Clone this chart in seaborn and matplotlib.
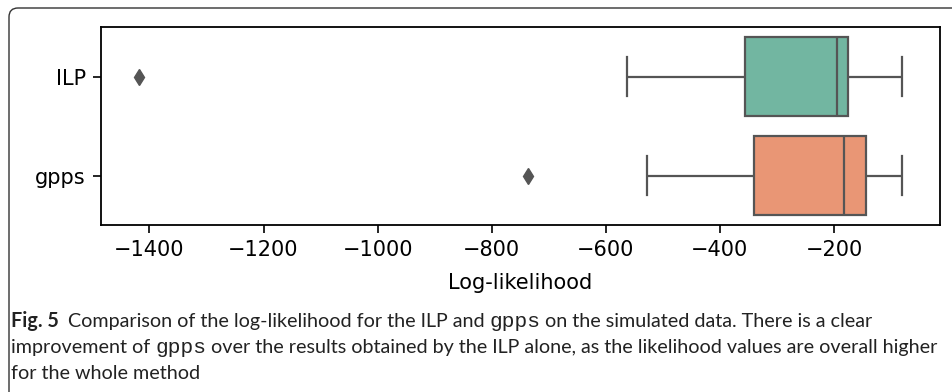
import matplotlib
matplotlib.use('Agg')
import matplotlib.pyplot as plt
import matplotlib.patches as mpatches
import matplotlib.transforms as mtrans
import seaborn as sns
import pandas as pd

# estimated sample values read off the boxes (min/outlier, whiskers, quartiles, median)
methods = ['ILP', 'gpps']
ilp_vals = [-1418, -563, -356, -270, -195, -185, -176, -130, -81]
gpps_vals = [-737, -527, -340, -250, -182, -160, -143, -110, -81]

df = pd.DataFrame({
    'Log-likelihood': ilp_vals + gpps_vals,
    'method': ['ILP'] * len(ilp_vals) + ['gpps'] * len(gpps_vals),
})

W, H = 953, 392
fig = plt.figure(figsize=(W / 100, H / 100), dpi=100)
ax = fig.add_axes([101 / W, 1 - 225 / H, (940 - 101) / W, (225 - 27) / H])

sns.boxplot(data=df, x='Log-likelihood', y='method', hue='method', order=methods,
            palette='Set2', saturation=0.75, linewidth=1.6, linecolor='#555555',
            width=0.8, ax=ax, legend=False,
            flierprops=dict(marker='d', markersize=8, markerfacecolor='#555555',
                            markeredgecolor='#555555'))

ax.set_ylabel('')
ax.set_xlabel('Log-likelihood', fontsize=15, labelpad=9)
ax.tick_params(labelsize=15, length=6, width=1.2, pad=5)
for s in ax.spines.values():
    s.set_linewidth(1.3)
    s.set_color('black')

# outer frame of the figure panel (top and left edges, rounded corner)
frame = mpatches.FancyBboxPatch((9, -60), 1100, 444,
                                boxstyle='round,pad=0,rounding_size=9',
                                transform=mtrans.IdentityTransform(),
                                fill=False, edgecolor='#333333', linewidth=1.0)
fig.patches.append(frame)

# caption with mixed fonts
cap = ['Lato', 'DejaVu Sans']
mono = ['Liberation Mono', 'DejaVu Sans Mono']
lines = [
    [('Fig. 5', 'bold', cap), ('Comparison of the log-likelihood for the ILP and', 'normal', cap),
     ('gpps', 'normal', mono), ('on the simulated data. There is a clear', 'normal', cap)],
    [('improvement of', 'normal', cap), ('gpps', 'normal', mono),
     ('over the results obtained by the ILP alone, as the likelihood values are overall higher', 'normal', cap)],
    [('for the whole method', 'normal', cap)],
]
baselines = [327, 353, 379]
x0 = 11
line1_end = 870

renderer = fig.canvas.get_renderer()


def place_line(segs, yb, fs, draw=True):
    t1 = fig.text(0, 0, 'a a', family=cap, fontsize=fs)
    t2 = fig.text(0, 0, 'aa', family=cap, fontsize=fs)
    space = t1.get_window_extent(renderer).width - t2.get_window_extent(renderer).width
    t1.remove()
    t2.remove()
    x = x0
    made = []
    for i, (txt, wt, fam) in enumerate(segs):
        size = fs * 1.08 if fam is mono else fs
        t = fig.text(x / W, 1 - yb / H, txt, family=fam, weight=wt, fontsize=size,
                     va='baseline', ha='left', color='#222222')
        made.append(t)
        x += t.get_window_extent(renderer).width + space * (1.8 if wt == 'bold' else 1.0)
    if not draw:
        for t in made:
            t.remove()
    return x - space


# size the caption font so the first line spans the same width as in the figure
fs = 12.0
end = place_line(lines[0], baselines[0], fs, draw=False)
fs = fs * (line1_end - x0) / (end - x0)

for segs, yb in zip(lines, baselines):
    place_line(segs, yb, fs)

fig.savefig('out.png', dpi=100)
